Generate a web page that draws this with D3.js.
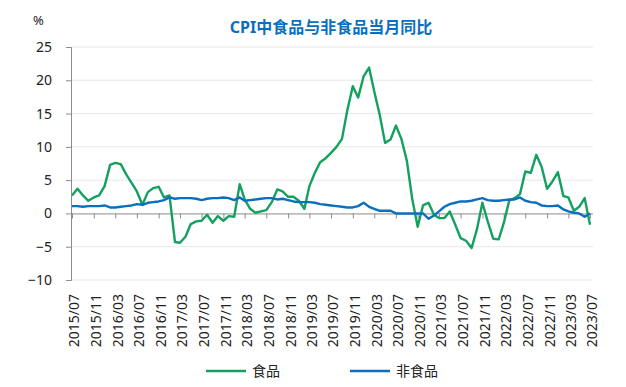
<!DOCTYPE html>
<html>
<head>
<meta charset="utf-8">
<script src="https://cdn.jsdelivr.net/npm/d3@7"></script>
<style>
	body { margin: 0; background: #fff; }
	svg text { font-family: "Noto Sans", "Noto Sans CJK SC", sans-serif; fill: #222; }
</style>
</head>
<body>
<svg id="chart" width="626" height="387"></svg>
<script>
// monthly data, 2015/07 - 2023/07
var startMonth = new Date(2015, 6, 1);
var endMonth = new Date(2023, 6, 1);

var foodValues = [
	2.7, 3.7, 2.7, 1.9, 2.4, 2.7,
	4.1, 7.3, 7.6, 7.4, 5.9, 4.6, 3.3, 1.3, 3.2, 3.8, 4.0, 2.4,
	2.7, -4.3, -4.4, -3.5, -1.6, -1.2, -1.1, -0.2, -1.4, -0.4, -1.1, -0.4,
	-0.5, 4.4, 2.1, 0.7, 0.1, 0.3, 0.5, 1.7, 3.6, 3.3, 2.5, 2.5,
	1.9, 0.7, 4.1, 6.1, 7.7, 8.3, 9.1, 10.0, 11.2, 15.5, 19.1, 17.4,
	20.6, 21.9, 18.3, 14.8, 10.6, 11.1, 13.2, 11.2, 7.9, 2.2, -2.0, 1.2,
	1.6, -0.2, -0.7, -0.7, 0.3, -1.7, -3.7, -4.1, -5.2, -2.4, 1.6, -1.2,
	-3.8, -3.9, -1.5, 1.9, 2.3, 2.9, 6.3, 6.1, 8.8, 7.0, 3.7, 4.8,
	6.2, 2.6, 2.4, 0.4, 1.0, 2.3, -1.7
];

var nonFoodValues = [
	1.1, 1.1, 1.0, 1.1, 1.1, 1.1,
	1.2, 0.9, 0.9, 1.0, 1.1, 1.2, 1.4, 1.3, 1.6, 1.7, 1.8, 2.0,
	2.4, 2.2, 2.3, 2.3, 2.3, 2.2, 2.0, 2.2, 2.3, 2.3, 2.4, 2.3,
	2.0, 2.4, 1.9, 2.0, 2.1, 2.2, 2.3, 2.3, 2.1, 2.2, 2.0, 1.8,
	1.7, 1.7, 1.7, 1.6, 1.4, 1.3, 1.2, 1.1, 1.0, 0.9, 0.9, 1.1,
	1.6, 1.0, 0.7, 0.4, 0.4, 0.4, 0.0, 0.0, 0.0, 0.0, 0.0, 0.0,
	-0.8, -0.3, 0.3, 1.0, 1.4, 1.6, 1.8, 1.8, 1.9, 2.1, 2.3, 2.0,
	1.9, 1.9, 2.0, 2.1, 2.1, 2.4, 1.9, 1.7, 1.6, 1.2, 1.1, 1.1,
	1.2, 0.6, 0.3, 0.1, 0.0, -0.5, 0.0
];

var yTicks = [-10, -5, 0, 5, 10, 15, 20, 25];
var seriesNames = ["食品", "非食品"];
var seriesColours = ["#14A05E", "#0B6FC0"];

var months = d3.timeMonth.range(startMonth, d3.timeMonth.offset(endMonth, 1));
var tickMonths = months.filter(function(d, i) { return i % 4 === 0; });

var svg = d3.select("#chart");
var plot = { left: 71, right: 593, top: 47, bottom: 280 };

var xScale = d3.scaleTime()
	.domain([startMonth, endMonth])
	.range([72, 590]);
var yScale = d3.scaleLinear()
	.domain([-10, 25])
	.range([plot.bottom, plot.top]);

// gridlines
svg.append("g")
	.selectAll("line")
	.data(yTicks.filter(function(d) { return d !== 0; }))
	.enter()
	.append("line")
	.attr("x1", plot.left)
	.attr("x2", plot.right)
	.attr("y1", function(d) { return yScale(d); })
	.attr("y2", function(d) { return yScale(d); })
	.style("stroke", "#e8e8e8")
	.style("stroke-width", 1);

// y axis
var yAxis = d3.axisLeft(yScale)
	.tickValues(yTicks)
	.tickSize(5)
	.tickPadding(14);
var yAxisGroup = svg.append("g")
	.attr("class", "axis y")
	.attr("transform", "translate(" + plot.left + ",0)")
	.call(yAxis);
yAxisGroup.select(".domain").style("stroke", "#8c8c8c");
yAxisGroup.selectAll(".tick line").style("stroke", "#8c8c8c");
yAxisGroup.selectAll("text").style("font-size", "14px");

// x axis on zero line
var xAxis = d3.axisBottom(xScale)
	.tickValues(tickMonths)
	.tickSize(5)
	.tickSizeOuter(0)
	.tickFormat(d3.timeFormat("%Y/%m"));
var xAxisGroup = svg.append("g")
	.attr("class", "axis x")
	.attr("transform", "translate(0," + yScale(0) + ")")
	.call(xAxis);
xAxisGroup.select(".domain")
	.attr("d", "M" + plot.left + ",0.5H" + plot.right)
	.style("stroke", "#8c8c8c");
xAxisGroup.selectAll(".tick line").style("stroke", "#8c8c8c");
xAxisGroup.selectAll("text")
	.attr("y", 0)
	.attr("x", 0)
	.attr("dy", "0.35em")
	.attr("transform", function() {
		return "translate(2," + (294 - yScale(0)) + ") rotate(-90)";
	})
	.style("text-anchor", "end")
	.style("font-size", "14px");

// lines
var allSeries = [foodValues, nonFoodValues];
var line = d3.line()
	.x(function(d, i) { return xScale(months[i]); })
	.y(function(d) { return yScale(d); });

svg.append("g")
	.selectAll("path")
	.data(allSeries)
	.enter()
	.append("path")
	.attr("d", line)
	.style("fill", "none")
	.style("stroke", function(d, i) { return seriesColours[i]; })
	.style("stroke-width", 2.4)
	.style("stroke-linejoin", "round");

// title and unit
svg.append("text")
	.attr("x", 331)
	.attr("y", 33)
	.style("text-anchor", "middle")
	.style("font-size", "16px")
	.style("font-weight", "bold")
	.style("fill", "#0B6FC0")
	.text("CPI中食品与非食品当月同比");

svg.append("text")
	.attr("x", 33)
	.attr("y", 25)
	.style("font-size", "13px")
	.text("%");

// legend
var legendX = [206, 350];
var legend = svg.append("g")
	.selectAll("g")
	.data(seriesNames)
	.enter()
	.append("g")
	.attr("transform", function(d, i) { return "translate(" + legendX[i] + ",371)"; });
legend.append("line")
	.attr("x1", 0)
	.attr("x2", 40)
	.style("stroke", function(d, i) { return seriesColours[i]; })
	.style("stroke-width", 2.4);
legend.append("text")
	.attr("x", 46)
	.attr("dy", "0.35em")
	.style("font-size", "14px")
	.text(function(d) { return d; });
</script>
</body>
</html>
